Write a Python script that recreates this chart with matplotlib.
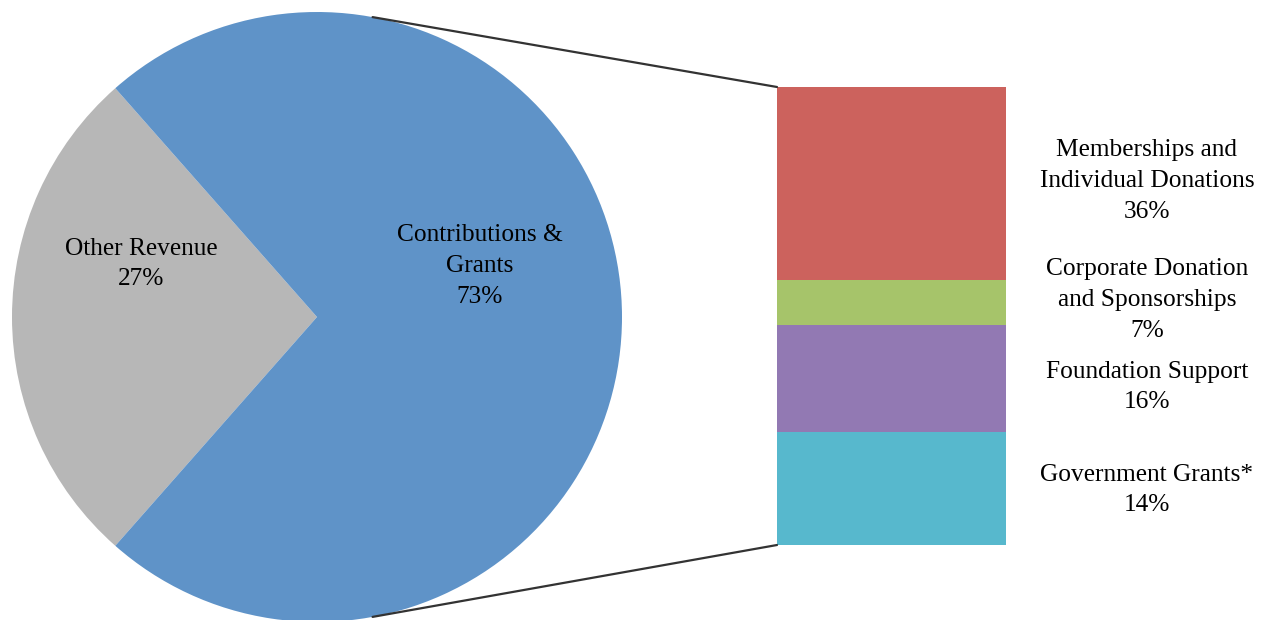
import matplotlib
matplotlib.use("Agg")
import matplotlib.pyplot as plt
from matplotlib.patches import ConnectionPatch
import numpy as np

# Data
pie_labels = ["Other Revenue", "Contributions &\nGrants"]
pie_values = [27, 73]
pie_colors = ["#B7B7B7", "#5F93C8"]

bar_labels = ["Government Grants*", "Foundation Support",
              "Corporate Donation\nand Sponsorships", "Memberships and\nIndividual Donations"]
bar_pct = [14, 16, 7, 36]
bar_heights = [18.0, 17.0, 7.2, 30.8]   # segment heights as drawn in the picture
bar_colors = ["#57B8CD", "#9279B3", "#A6C46A", "#CC625D"]

plt.rcParams['font.family'] = ['Liberation Serif', 'DejaVu Serif']
FS = 18.3
LS = 1.52

W, H = 1268, 620
fig = plt.figure(figsize=(W / 100, H / 100), dpi=100)
ax = fig.add_axes([0, 0, 1, 1])

cx, cy, R = 317, 303, 305
start = 180 - pie_values[0] * 3.6 / 2
wedges, _ = ax.pie(pie_values, colors=pie_colors, startangle=start, center=(cx, cy),
                   radius=R, frame=True, wedgeprops=dict(linewidth=0))
ax.set_xlim(0, W)
ax.set_ylim(0, H)
ax.set_aspect("auto")
ax.axis("off")

ax.text(141, H - 264, f"{pie_labels[0]}\n{pie_values[0]}%", ha="center", va="center",
        fontsize=FS, linespacing=LS)
ax.text(480, H - 266, f"{pie_labels[1]}\n{pie_values[1]}%", ha="center", va="center",
        fontsize=FS, linespacing=LS)

# Bar of pie
bx = fig.add_axes([777 / W, (H - 545) / H, 229 / W, 458 / H])
bottom = 0
for h, c in zip(bar_heights, bar_colors):
    bx.bar(0, h, bottom=bottom, width=1.0, color=c, linewidth=0)
    bottom += h
bx.set_xlim(-0.5, 0.5)
bx.set_ylim(0, sum(bar_heights))
bx.axis("off")

label_y = [490, 387, 300, 181]
for lab, p, y in zip(bar_labels, bar_pct, label_y):
    ax.text(1147, H - y, f"{lab}\n{p}%", ha="center", va="center", fontsize=FS,
            linespacing=LS)

# Connector lines
ang = np.deg2rad(79.5)
for sgn, yb in [(1, sum(bar_heights)), (-1, 0)]:
    p = (cx + R * np.cos(ang), cy + sgn * R * np.sin(ang))
    con = ConnectionPatch(xyA=p, coordsA=ax.transData, xyB=(-0.5, yb), coordsB=bx.transData,
                          color="#333333", linewidth=1.6)
    fig.add_artist(con)

fig.savefig("out.png", dpi=100, facecolor="white")
